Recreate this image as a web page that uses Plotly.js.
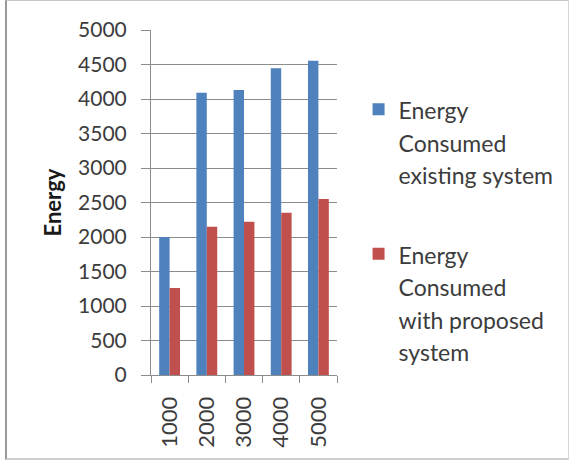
<!DOCTYPE html>
<html>
<head>
<meta charset="utf-8">
<script src="https://cdn.plot.ly/plotly-3.0.1.min.js"></script>
<style>
html,body{margin:0;padding:0;background:#fff;}
#wrap{position:relative;width:569px;height:462px;}
#chart{width:569px;height:462px;}
#frame{position:absolute;left:5px;top:0px;width:561px;height:457px;border-left:2px solid #9a9a9a;border-top:1px solid #c8c8c8;border-bottom:2px solid #cfcfcf;border-right:1px solid #d8d8d8;pointer-events:none;}
</style>
</head>
<body>
<div id="wrap"><div id="chart"></div><div id="frame"></div></div>
<script>
var categories = ["1000", "2000", "3000", "4000", "5000"];
var existingValues = [2000, 4090, 4130, 4445, 4555];
var proposedValues = [1260, 2150, 2220, 2350, 2550];
var seriesNames = [
  "Energy<br>Consumed<br>existing system",
  "Energy<br>Consumed<br>with proposed<br>system"
];
var yTickValues = [0, 500, 1000, 1500, 2000, 2500, 3000, 3500, 4000, 4500, 5000];

function legendText(s) {
  return s.split("<br>").map(function (l) {
    return "<span style='font-size:23px'>" + l + "</span>";
  }).join("<br>");
}

var textColor = "#3c3c3c";
var gridColor = "#8c8c8c";

var traces = [
  {
    type: "bar", x: categories, y: existingValues,
    name: legendText(seriesNames[0]), legendgroup: "a",
    marker: {color: "#4F81BD"}, hoverinfo: "none"
  },
  {
    type: "bar", x: categories, y: proposedValues,
    name: legendText(seriesNames[1]), legendgroup: "b",
    marker: {color: "#C0504D"}, hoverinfo: "none"
  }
];

var layout = {
  width: 569, height: 462,
  margin: {l: 151, r: 231, t: 30, b: 87},
  paper_bgcolor: "#ffffff", plot_bgcolor: "#ffffff",
  font: {family: "Lato, 'Open Sans', sans-serif", color: textColor},
  barmode: "group",
  bargap: 0.44, bargroupgap: 0,
  showlegend: true,
  legend: {
    x: 1.11, xanchor: "left", y: 0.836, yanchor: "top",
    font: {size: 25, color: textColor},
    valign: "top",
    traceorder: "grouped",
    tracegroupgap: 44,
    bgcolor: "rgba(0,0,0,0)"
  },
  xaxis: {
    type: "category",
    tickson: "boundaries",
    ticks: "outside", ticklen: 7, tickcolor: gridColor,
    showline: true, linecolor: gridColor, linewidth: 1,
    showgrid: false,
    tickangle: -90,
    tickfont: {size: 22, color: textColor},
    ticklabelstandoff: 12,
    fixedrange: true
  },
  yaxis: {
    range: [0, 5000],
    tickmode: "array", tickvals: yTickValues,
    ticktext: yTickValues.map(String),
    ticks: "outside", ticklen: 9, tickcolor: gridColor,
    showline: true, linecolor: gridColor, linewidth: 1,
    showgrid: true, gridcolor: gridColor, gridwidth: 1,
    zeroline: false,
    tickfont: {size: 21, color: textColor},
    ticklabelstandoff: 10,
    title: {text: "<b>Energy</b>", font: {size: 22, color: "#1a1a1a"}, standoff: 10},
    fixedrange: true
  }
};

Plotly.newPlot("chart", traces, layout, {displayModeBar: false, staticPlot: true});
</script>
</body>
</html>
